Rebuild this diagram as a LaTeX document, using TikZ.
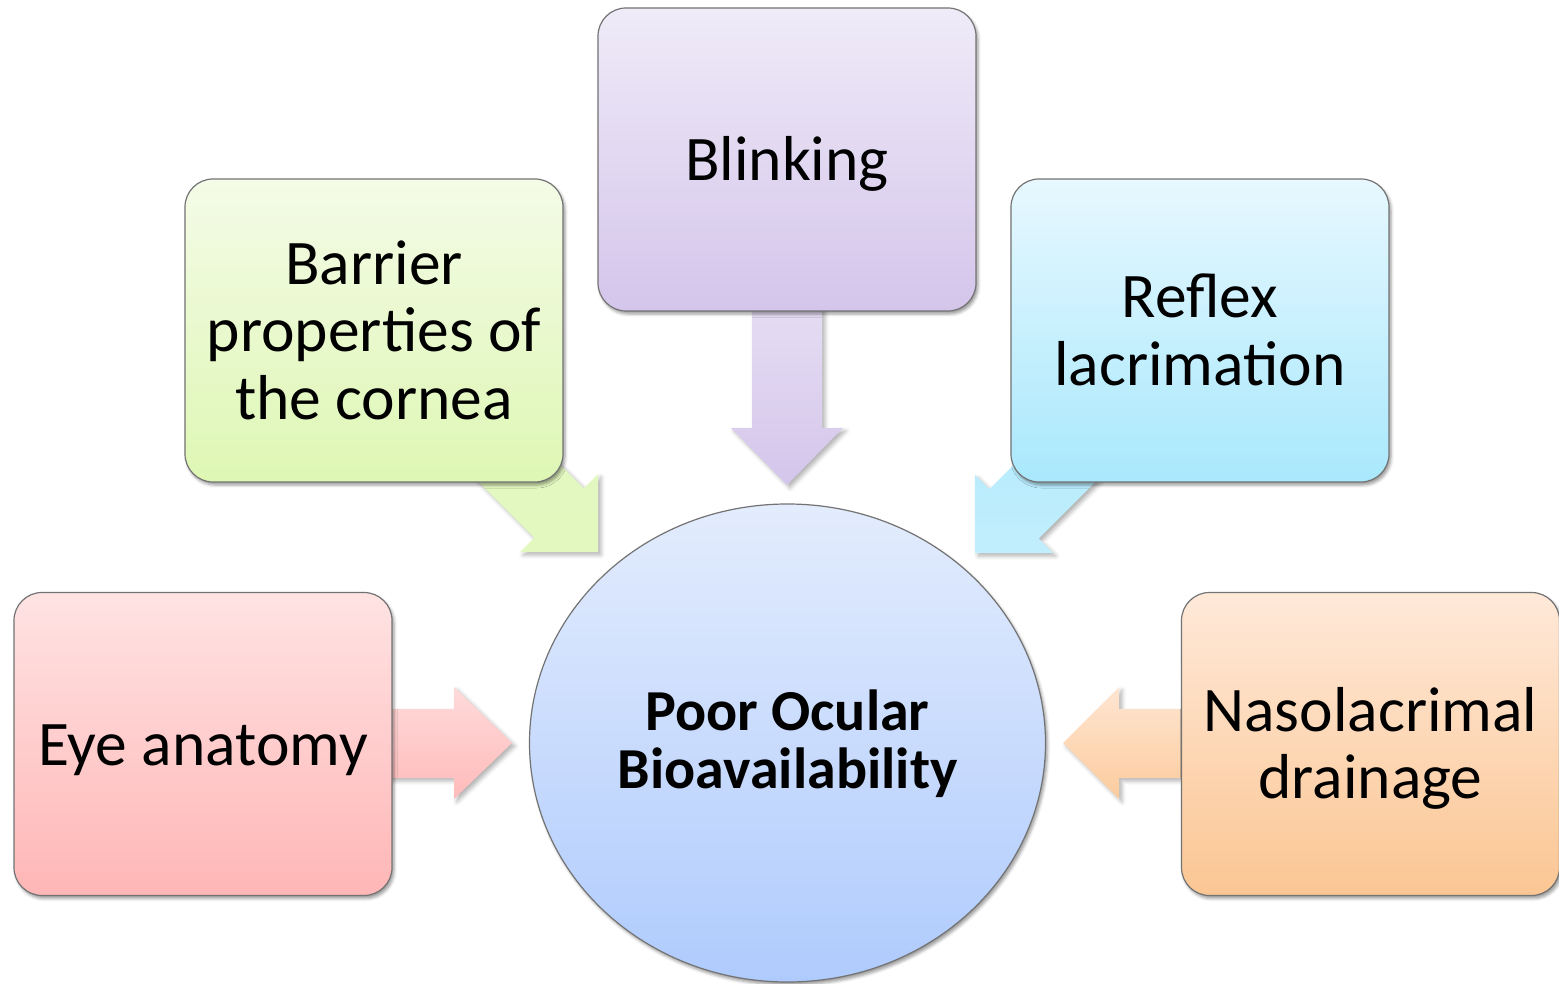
\documentclass[tikz,border=0pt]{standalone}
\usepackage{fontspec}
\setmainfont{Carlito}
\usetikzlibrary{shapes.geometric,shadows.blur}
\newcommand{\topgap}{\rule{0pt}{62pt}}
\newcommand{\botgap}{\rule[-20pt]{0pt}{20pt}}
\newcommand{\ctopgap}{\rule{0pt}{52pt}}
\newcommand{\cbotgap}{\rule[-20pt]{0pt}{20pt}}
\definecolor{pinkA}{HTML}{FFE3E3}\definecolor{pinkB}{HTML}{FFB6B6}
\definecolor{greenA}{HTML}{F4FBE7}\definecolor{greenB}{HTML}{DEF7B4}
\definecolor{lilacA}{HTML}{EFEBF8}\definecolor{lilacB}{HTML}{D4C5EB}
\definecolor{cyanA}{HTML}{E7F8FE}\definecolor{cyanB}{HTML}{A9E8FD}
\definecolor{orangeA}{HTML}{FFE9D9}\definecolor{orangeB}{HTML}{FBC693}
\definecolor{blueA}{HTML}{E3ECFD}\definecolor{blueB}{HTML}{AFCBFD}

\begin{document}
\begin{tikzpicture}[x=1pt, y=-1pt,
	box/.style={draw=black!55, line width=1.2pt, rounded corners=28pt,
		minimum width=378pt, minimum height=303pt, inner sep=0pt, align=center,
		font=\fontsize{63.5}{67.5}\selectfont,
		blur shadow={shadow xshift=2pt, shadow yshift=-3pt, shadow blur radius=3pt, shadow opacity=40}},
	fat/.style={blur shadow={shadow xshift=3pt, shadow yshift=-3pt, shadow blur radius=4pt, shadow opacity=30}}]
	\useasboundingbox (0,0) rectangle (1559,984);
	% arrow tips
	\coordinate (eyetip) at (512,743);
	\coordinate (bartip) at (598,552);
	\coordinate (blinktip) at (787,485);
	\coordinate (reftip) at (975,553);
	\coordinate (nasotip) at (1063,743);
	% fat arrows
	\path[fat, top color=pinkA!80!pinkB, bottom color=pinkB!90!pinkA] (eyetip) -- ++(-58,-56) -- ++(0,22) -- ++(-100,0) -- ++(0,69) -- ++(100,0) -- ++(0,21) -- cycle;
	\path[fat, top color=greenB!70!greenA, bottom color=greenB!80!greenA] (bartip) -- ++(0,-78) -- ++(-14.3,14.3) -- ++(-99,-99) -- ++(-49.4,49.4) -- ++(99,99) -- ++(-14.3,14.3) -- cycle;
	\path[fat, top color=lilacA!70!lilacB, bottom color=lilacB] (blinktip) -- ++(-56,-57) -- ++(21,0) -- ++(0,-140) -- ++(70,0) -- ++(0,140) -- ++(21,0) -- cycle;
	\path[fat, top color=cyanB!90!cyanA, bottom color=cyanB!60!cyanA] (reftip) -- ++(0,-78) -- ++(14.3,14.3) -- ++(99,-99) -- ++(49.4,49.4) -- ++(-99,99) -- ++(14.3,14.3) -- cycle;
	\path[fat, top color=orangeA!90!orangeB, bottom color=orangeB!85!orangeA] (nasotip) -- ++(56,-56) -- ++(0,22) -- ++(100,0) -- ++(0,69) -- ++(-100,0) -- ++(0,21) -- cycle;
	% boxes
	\node[box, top color=pinkA, bottom color=pinkB] (eye) at (203,744) {\topgap Eye anatomy\botgap};
	\node[box, top color=greenA, bottom color=greenB] (barrier) at (374,330.5) {\topgap Barrier\\properties of\\the cornea\botgap};
	\node[box, top color=lilacA, bottom color=lilacB] (blink) at (787,159.5) {\topgap Blinking\botgap};
	\node[box, top color=cyanA, bottom color=cyanB] (reflex) at (1200,330.5) {\topgap Reflex\\lacrimation\botgap};
	\node[box, top color=orangeA, bottom color=orangeB] (naso) at (1370.5,744) {\topgap Nasolacrimal\\drainage\botgap};
	% centre
	\node[ellipse, draw=black!55, line width=1.2pt, minimum width=516pt, minimum height=478pt,
		inner sep=0pt, top color=blueA, bottom color=blueB, align=center,
		font=\fontsize{58}{58}\selectfont\bfseries,
		blur shadow={shadow xshift=2pt, shadow yshift=-3pt, shadow blur radius=3pt, shadow opacity=40}]
		(poor) at (787.5,743) {\ctopgap Poor Ocular\\Bioavailability\cbotgap};
\end{tikzpicture}
\end{document}
